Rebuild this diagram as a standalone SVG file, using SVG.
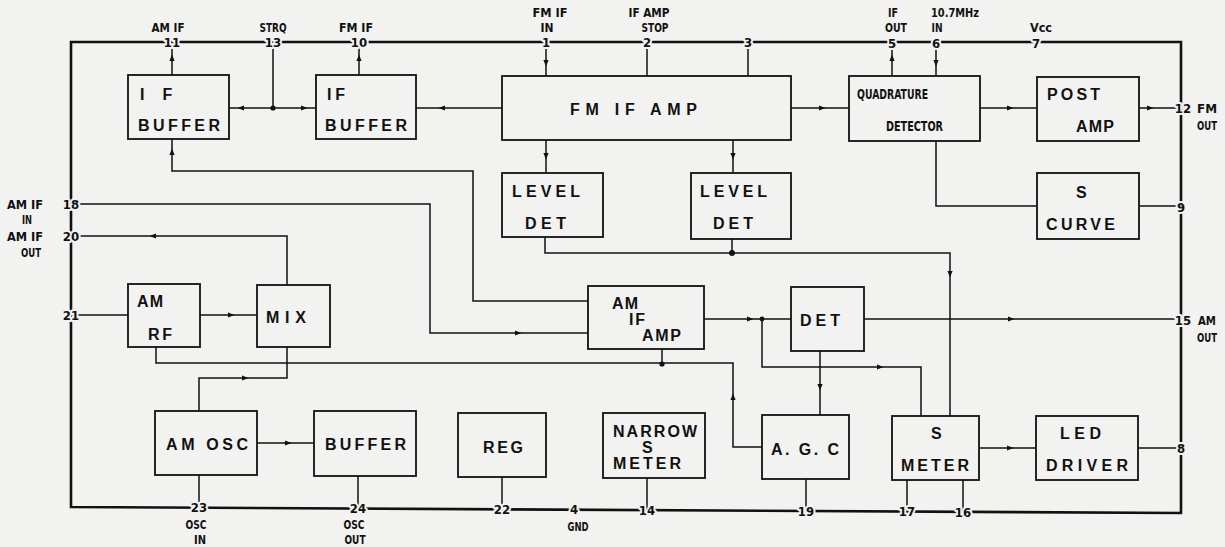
<svg xmlns="http://www.w3.org/2000/svg" xmlns:xlink="http://www.w3.org/1999/xlink" width="1225" height="547" viewBox="0 0 1225 547">
<style>
.bg{fill:#f2f2f0}
.frame{fill:none;stroke:#111;stroke-width:2.6;stroke-linejoin:miter}
.box{fill:none;stroke:#111;stroke-width:1.8}
.w{fill:none;stroke:#111;stroke-width:1.5}
.bt{font-family:"Liberation Sans",Arial,sans-serif;font-weight:bold;font-size:16px;fill:#111}
.lb{font-family:"Liberation Sans Narrow","DejaVu Sans Condensed","Liberation Sans",sans-serif;font-weight:bold;font-size:12px;fill:#111}
.pn{font-family:"Liberation Sans Narrow","DejaVu Sans Condensed","Liberation Sans",sans-serif;font-weight:bold;font-size:13px;fill:#111;text-anchor:middle;stroke:#f2f2f0;stroke-width:4px;paint-order:stroke;stroke-linejoin:round}
.m{text-anchor:middle}
.dot{fill:#111}
.ar{fill:#111}
</style>
<defs>
<path id="ar" d="M3.5,0 L-3,-2.6 L-3,2.6 Z"/>
</defs>
<rect class="bg" x="0" y="0" width="1225" height="547"/>

<g id="frame">
<path class="frame" d="M71,507 V42 H1181 V513 Z"/>
</g>

<g id="connectors">
<path class="w" d="M172,48 V75"/>
<path class="w" d="M273,48 V108"/>
<path class="w" d="M229,108 H316"/>
<path class="w" d="M359,48 V75"/>
<path class="w" d="M416,108 H502"/>
<path class="w" d="M546,48 V76"/>
<path class="w" d="M647,48 V76"/>
<path class="w" d="M748,48 V76"/>
<path class="w" d="M791,108 H849"/>
<path class="w" d="M892,48 V76"/>
<path class="w" d="M936,48 V76"/>
<path class="w" d="M980,108 H1037"/>
<path class="w" d="M1139,108 H1181"/>
<path class="w" d="M546,140 V173"/>
<path class="w" d="M733,140 V173"/>
<path class="w" d="M936,141 V206 H1037"/>
<path class="w" d="M1139,206 H1181"/>
<path class="w" d="M172,139 V171 H473 V301 H588"/>
<path class="w" d="M71,204 H430 V333 H588"/>
<path class="w" d="M71,236 H287 V285"/>
<path class="w" d="M71,315 H128"/>
<path class="w" d="M200,315 H257"/>
<path class="w" d="M156,347 V363 H733 V447 H762"/>
<path class="w" d="M662,349 V364"/>
<path class="w" d="M287,347 V378 H199 V411"/>
<path class="w" d="M257,443 H314"/>
<path class="w" d="M199,475 V508"/>
<path class="w" d="M358,476 V509"/>
<path class="w" d="M502,477 V509"/>
<path class="w" d="M647,478 V510"/>
<path class="w" d="M806,479 V511"/>
<path class="w" d="M907,480 V512"/>
<path class="w" d="M963,480 V512"/>
<path class="w" d="M545,237 V253 H950 V416"/>
<path class="w" d="M732,239 V253"/>
<path class="w" d="M704,319 H791"/>
<path class="w" d="M762,319 V367 H921 V416"/>
<path class="w" d="M864,319 H1181"/>
<path class="w" d="M820,351 V415"/>
<path class="w" d="M979,448 H1036"/>
<path class="w" d="M1138,448 H1181"/>

<circle class="dot" cx="273" cy="108" r="2.6"/>
<circle class="dot" cx="732" cy="253" r="3"/>
<circle class="dot" cx="662" cy="364" r="2.6"/>
<circle class="dot" cx="762" cy="319" r="2.4"/>

<use class="ar" xlink:href="#ar" transform="translate(172,58) rotate(-90)"/>
<use class="ar" xlink:href="#ar" transform="translate(241,108) rotate(180)"/>
<use class="ar" xlink:href="#ar" transform="translate(304,108)"/>
<use class="ar" xlink:href="#ar" transform="translate(359,58) rotate(-90)"/>
<use class="ar" xlink:href="#ar" transform="translate(442,108) rotate(180)"/>
<use class="ar" xlink:href="#ar" transform="translate(546,63) rotate(90)"/>
<use class="ar" xlink:href="#ar" transform="translate(822,108)"/>
<use class="ar" xlink:href="#ar" transform="translate(892,58) rotate(-90)"/>
<use class="ar" xlink:href="#ar" transform="translate(936,63) rotate(90)"/>
<use class="ar" xlink:href="#ar" transform="translate(1010,108)"/>
<use class="ar" xlink:href="#ar" transform="translate(1150,108)"/>
<use class="ar" xlink:href="#ar" transform="translate(546,156) rotate(90)"/>
<use class="ar" xlink:href="#ar" transform="translate(733,156) rotate(90)"/>
<use class="ar" xlink:href="#ar" transform="translate(172,152) rotate(-90)"/>
<use class="ar" xlink:href="#ar" transform="translate(518,333)"/>
<use class="ar" xlink:href="#ar" transform="translate(153,236) rotate(180)"/>
<use class="ar" xlink:href="#ar" transform="translate(231,315)"/>
<use class="ar" xlink:href="#ar" transform="translate(733,397) rotate(-90)"/>
<use class="ar" xlink:href="#ar" transform="translate(245,378)"/>
<use class="ar" xlink:href="#ar" transform="translate(288,443)"/>
<use class="ar" xlink:href="#ar" transform="translate(950,274) rotate(90)"/>
<use class="ar" xlink:href="#ar" transform="translate(750,319)"/>
<use class="ar" xlink:href="#ar" transform="translate(880,367)"/>
<use class="ar" xlink:href="#ar" transform="translate(1011,319)"/>
<use class="ar" xlink:href="#ar" transform="translate(820,387) rotate(90)"/>
<use class="ar" xlink:href="#ar" transform="translate(1010,448)"/>
</g>

<g id="pins">
<text class="pn" x="172" y="47">11</text>
<text class="pn" x="273" y="47">13</text>
<text class="pn" x="359" y="47">10</text>
<text class="pn" x="546" y="47">1</text>
<text class="pn" x="647" y="47">2</text>
<text class="pn" x="748" y="47">3</text>
<text class="pn" x="892" y="47.5">5</text>
<text class="pn" x="936" y="47.5">6</text>
<text class="pn" x="1036" y="47.5">7</text>
<text class="pn" x="1183" y="112.5">12</text>
<text class="pn" x="1181" y="211.5">9</text>
<text class="pn" x="1183" y="324.5">15</text>
<text class="pn" x="1181" y="452.5">8</text>
<text class="pn" x="71" y="208.5">18</text>
<text class="pn" x="71" y="240.5">20</text>
<text class="pn" x="71" y="319.5">21</text>
<text class="pn" x="199" y="512">23</text>
<text class="pn" x="358" y="513">24</text>
<text class="pn" x="502" y="514">22</text>
<text class="pn" x="574" y="514">4</text>
<text class="pn" x="647" y="514.5">14</text>
<text class="pn" x="806" y="515.5">19</text>
<text class="pn" x="907" y="516">17</text>
<text class="pn" x="963" y="516.5">16</text>

<text class="lb m" x="168" y="31.5" textLength="33" lengthAdjust="spacingAndGlyphs">AM IF</text>
<text class="lb m" x="273" y="31.5" textLength="27" lengthAdjust="spacingAndGlyphs">STRQ</text>
<text class="lb m" x="356" y="31.5" textLength="34" lengthAdjust="spacingAndGlyphs">FM IF</text>
<text class="lb m" x="550" y="16.5" textLength="35" lengthAdjust="spacingAndGlyphs">FM IF</text>
<text class="lb m" x="547" y="31.5" textLength="13" lengthAdjust="spacingAndGlyphs">IN</text>
<text class="lb m" x="649" y="16.5" textLength="41" lengthAdjust="spacingAndGlyphs">IF AMP</text>
<text class="lb m" x="655" y="31.5" textLength="27" lengthAdjust="spacingAndGlyphs">STOP</text>
<text class="lb m" x="893" y="16.5" textLength="10" lengthAdjust="spacingAndGlyphs">IF</text>
<text class="lb m" x="896" y="31.5" textLength="22" lengthAdjust="spacingAndGlyphs">OUT</text>
<text class="lb m" x="955" y="16.5" textLength="48" lengthAdjust="spacingAndGlyphs">10.7MHz</text>
<text class="lb m" x="937" y="31.5" textLength="11" lengthAdjust="spacingAndGlyphs">IN</text>
<text class="lb m" x="1041" y="31.5" textLength="22" lengthAdjust="spacingAndGlyphs">Vcc</text>
<text class="lb" x="1197" y="112.5" textLength="20" lengthAdjust="spacingAndGlyphs">FM</text>
<text class="lb" x="1197" y="129.5" textLength="20" lengthAdjust="spacingAndGlyphs">OUT</text>
<text class="lb" x="1198" y="324.5" textLength="18" lengthAdjust="spacingAndGlyphs">AM</text>
<text class="lb" x="1197" y="341.5" textLength="20" lengthAdjust="spacingAndGlyphs">OUT</text>
<text class="lb m" x="25" y="208.5" textLength="36" lengthAdjust="spacingAndGlyphs">AM IF</text>
<text class="lb m" x="27" y="223.5" textLength="10" lengthAdjust="spacingAndGlyphs">IN</text>
<text class="lb m" x="25" y="240.5" textLength="36" lengthAdjust="spacingAndGlyphs">AM IF</text>
<text class="lb m" x="31" y="256.5" textLength="20" lengthAdjust="spacingAndGlyphs">OUT</text>
<text class="lb m" x="196" y="529" textLength="21" lengthAdjust="spacingAndGlyphs">OSC</text>
<text class="lb m" x="200" y="544" textLength="12" lengthAdjust="spacingAndGlyphs">IN</text>
<text class="lb m" x="354" y="529" textLength="21" lengthAdjust="spacingAndGlyphs">OSC</text>
<text class="lb m" x="355" y="544" textLength="21" lengthAdjust="spacingAndGlyphs">OUT</text>
<text class="lb m" x="578" y="530.5" textLength="21" lengthAdjust="spacingAndGlyphs">GND</text>
</g>

<g id="if-buffer-1">
<rect class="box" x="128" y="75" width="101" height="64"/>
<text class="bt" x="140" y="99.5">I<tspan dx="18">F</tspan></text>
<text class="bt" x="138" y="130.5" textLength="82" lengthAdjust="spacing">BUFFER</text>
</g>
<g id="if-buffer-2">
<rect class="box" x="316" y="75" width="100" height="64"/>
<text class="bt" x="327" y="99.5" textLength="18" lengthAdjust="spacing">IF</text>
<text class="bt" x="325" y="130.5" textLength="82" lengthAdjust="spacing">BUFFER</text>
</g>
<g id="fm-if-amp">
<rect class="box" x="502" y="76" width="289" height="64"/>
<text class="bt" x="570" y="114.5" textLength="127" lengthAdjust="spacing">FM IF AMP</text>
</g>
<g id="quadrature-detector">
<rect class="box" x="849" y="76" width="131" height="65"/>
<text class="lb" style="font-size:14px" x="857" y="98.5" textLength="71" lengthAdjust="spacingAndGlyphs">QUADRATURE</text>
<text class="lb" style="font-size:14px" x="886" y="130.5" textLength="57" lengthAdjust="spacingAndGlyphs">DETECTOR</text>
</g>
<g id="post-amp">
<rect class="box" x="1037" y="77" width="102" height="64"/>
<text class="bt" x="1047" y="99.5" textLength="53" lengthAdjust="spacing">POST</text>
<text class="bt" x="1076" y="131.5" textLength="38" lengthAdjust="spacing">AMP</text>
</g>
<g id="s-curve">
<rect class="box" x="1037" y="173" width="102" height="66"/>
<text class="bt" x="1076" y="197.5">S</text>
<text class="bt" x="1046" y="229.5" textLength="69" lengthAdjust="spacing">CURVE</text>
</g>
<g id="level-det-1">
<rect class="box" x="502" y="173" width="101" height="64"/>
<text class="bt" x="512" y="196.5" textLength="68" lengthAdjust="spacing">LEVEL</text>
<text class="bt" x="525" y="228.5" textLength="41" lengthAdjust="spacing">DET</text>
</g>
<g id="level-det-2">
<rect class="box" x="691" y="173" width="100" height="66"/>
<text class="bt" x="700" y="196.5" textLength="67" lengthAdjust="spacing">LEVEL</text>
<text class="bt" x="713" y="228.5" textLength="40" lengthAdjust="spacing">DET</text>
</g>
<g id="am-rf">
<rect class="box" x="128" y="284" width="72" height="63"/>
<text class="bt" x="137" y="306.5" textLength="26" lengthAdjust="spacing">AM</text>
<text class="bt" x="148" y="339.5" textLength="24" lengthAdjust="spacing">RF</text>
</g>
<g id="mix">
<rect class="box" x="257" y="285" width="73" height="62"/>
<text class="bt" x="266" y="322.5" textLength="40" lengthAdjust="spacing">MIX</text>
</g>
<g id="am-if-amp">
<rect class="box" x="588" y="286" width="116" height="63"/>
<text class="bt" x="612" y="308.5" textLength="26" lengthAdjust="spacing">AM</text>
<text class="bt" x="629" y="324.5" textLength="16" lengthAdjust="spacing">IF</text>
<text class="bt" x="642" y="340.5" textLength="39" lengthAdjust="spacing">AMP</text>
</g>
<g id="det">
<rect class="box" x="791" y="287" width="73" height="64"/>
<text class="bt" x="800" y="325.5" textLength="40" lengthAdjust="spacing">DET</text>
</g>
<g id="am-osc">
<rect class="box" x="155" y="411" width="102" height="64"/>
<text class="bt" x="166" y="449.5" textLength="82" lengthAdjust="spacing">AM OSC</text>
</g>
<g id="buffer">
<rect class="box" x="314" y="411" width="102" height="65"/>
<text class="bt" x="325" y="449.5" textLength="81" lengthAdjust="spacing">BUFFER</text>
</g>
<g id="reg">
<rect class="box" x="458" y="413" width="88" height="64"/>
<text class="bt" x="483" y="452.5" textLength="40" lengthAdjust="spacing">REG</text>
</g>
<g id="narrow-s-meter">
<rect class="box" x="603" y="413" width="102" height="65"/>
<text class="bt" x="613" y="436.5" textLength="84" lengthAdjust="spacing">NARROW</text>
<text class="bt" x="642" y="452.5">S</text>
<text class="bt" x="613" y="468.5" textLength="68" lengthAdjust="spacing">METER</text>
</g>
<g id="agc">
<rect class="box" x="762" y="415" width="87" height="64"/>
<text class="bt" x="771" y="454.5" textLength="68" lengthAdjust="spacing">A. G. C</text>
</g>
<g id="s-meter">
<rect class="box" x="892" y="416" width="87" height="64"/>
<text class="bt" x="931" y="438.5">S</text>
<text class="bt" x="901" y="470.5" textLength="68" lengthAdjust="spacing">METER</text>
</g>
<g id="led-driver">
<rect class="box" x="1036" y="416" width="102" height="64"/>
<text class="bt" x="1060" y="438.5" textLength="41" lengthAdjust="spacing">LED</text>
<text class="bt" x="1046" y="470.5" textLength="82" lengthAdjust="spacing">DRIVER</text>
</g>
</svg>
